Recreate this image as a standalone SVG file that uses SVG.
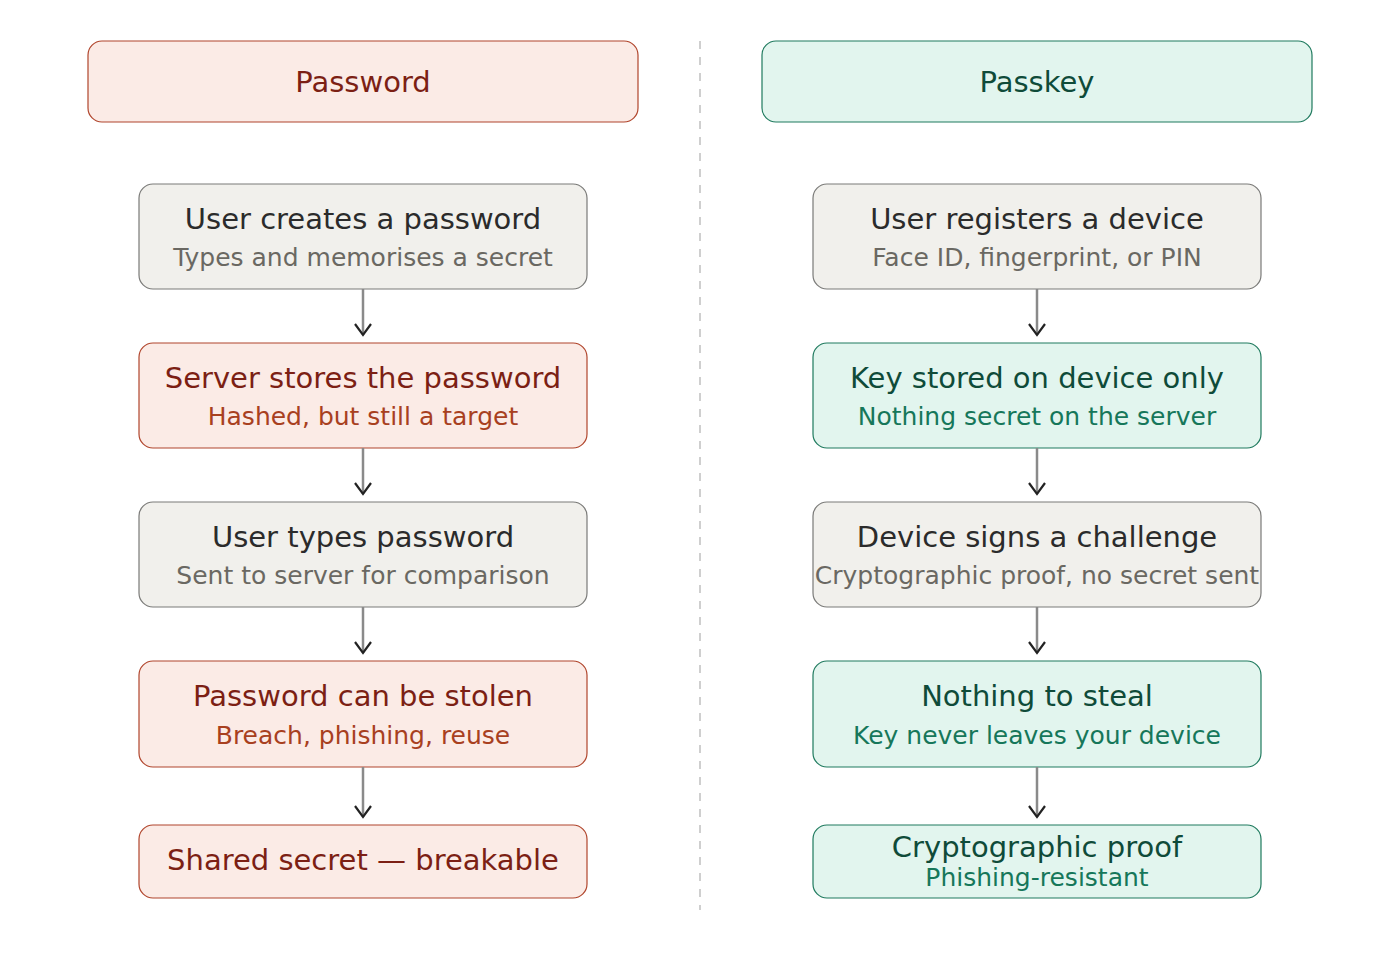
<svg xmlns="http://www.w3.org/2000/svg" width="1400" height="980" viewBox="0 0 1400 980">
<defs>
<marker id="arr" viewBox="0 0 14 18" refX="12" refY="9" markerWidth="14" markerHeight="18" markerUnits="userSpaceOnUse" orient="auto">
<path d="M1,1 L12,9 L1,17" fill="none" stroke="#222" stroke-width="2.2"/>
</marker>
<style>
text{font-family:"DejaVu Sans","Liberation Sans",sans-serif;text-anchor:middle}
.t{font-size:29px}
.s{font-size:25px}
.gray rect{fill:#f1f0ec;stroke:#7a7a78;stroke-width:1.2}
.gray .t{fill:#2b2b2b}.gray .s{fill:#6a6862}
.red rect{fill:#fbebe6;stroke:#b0452c;stroke-width:1.2}
.red .t{fill:#7c1f14}.red .s{fill:#a8401f}
.green rect{fill:#e2f5ee;stroke:#1f7a5e;stroke-width:1.2}
.green .t{fill:#0f4b39}.green .s{fill:#16775a}
.c line{stroke:#8a8a8a;stroke-width:2.5}
</style>
</defs>
<line x1="700" y1="41" x2="700" y2="910" stroke="#cfcfcf" stroke-width="2" stroke-dasharray="8,8"/>
<g id="password-header" class="red"><rect x="88" y="41" width="550" height="81" rx="14"/><text class="t" x="363" y="92">Password</text></g>
<g id="passkey-header" class="green"><rect x="762" y="41" width="550" height="81" rx="14"/><text class="t" x="1037" y="92">Passkey</text></g>

<g id="pw1" class="gray"><rect x="139" y="184" width="448" height="105" rx="14"/><text class="t" x="363" y="229">User creates a password</text><text class="s" x="363" y="266">Types and memorises a secret</text></g>
<g id="pw2" class="red"><rect x="139" y="343" width="448" height="105" rx="14"/><text class="t" x="363" y="388">Server stores the password</text><text class="s" x="363" y="425">Hashed, but still a target</text></g>
<g id="pw3" class="gray"><rect x="139" y="502" width="448" height="105" rx="14"/><text class="t" x="363" y="547">User types password</text><text class="s" x="363" y="584">Sent to server for comparison</text></g>
<g id="pw4" class="red"><rect x="139" y="661" width="448" height="106" rx="14"/><text class="t" x="363" y="706">Password can be stolen</text><text class="s" x="363" y="744">Breach, phishing, reuse</text></g>
<g id="pw5" class="red"><rect x="139" y="825" width="448" height="73" rx="14"/><text class="t" x="363" y="870">Shared secret — breakable</text></g>

<g id="pk1" class="gray"><rect x="813" y="184" width="448" height="105" rx="14"/><text class="t" x="1037" y="229">User registers a device</text><text class="s" x="1037" y="266">Face ID, fingerprint, or PIN</text></g>
<g id="pk2" class="green"><rect x="813" y="343" width="448" height="105" rx="14"/><text class="t" x="1037" y="388">Key stored on device only</text><text class="s" x="1037" y="425">Nothing secret on the server</text></g>
<g id="pk3" class="gray"><rect x="813" y="502" width="448" height="105" rx="14"/><text class="t" x="1037" y="547">Device signs a challenge</text><text class="s" x="1037" y="584">Cryptographic proof, no secret sent</text></g>
<g id="pk4" class="green"><rect x="813" y="661" width="448" height="106" rx="14"/><text class="t" x="1037" y="706">Nothing to steal</text><text class="s" x="1037" y="744">Key never leaves your device</text></g>
<g id="pk5" class="green"><rect x="813" y="825" width="448" height="73" rx="14"/><text class="t" x="1037" y="857">Cryptographic proof</text><text class="s" x="1037" y="886">Phishing-resistant</text></g>

<g id="connectors" class="c">
<line x1="363" y1="289" x2="363" y2="335" marker-end="url(#arr)"/>
<line x1="363" y1="448" x2="363" y2="494" marker-end="url(#arr)"/>
<line x1="363" y1="607" x2="363" y2="653" marker-end="url(#arr)"/>
<line x1="363" y1="767" x2="363" y2="817" marker-end="url(#arr)"/>
<line x1="1037" y1="289" x2="1037" y2="335" marker-end="url(#arr)"/>
<line x1="1037" y1="448" x2="1037" y2="494" marker-end="url(#arr)"/>
<line x1="1037" y1="607" x2="1037" y2="653" marker-end="url(#arr)"/>
<line x1="1037" y1="767" x2="1037" y2="817" marker-end="url(#arr)"/>
</g>
</svg>
